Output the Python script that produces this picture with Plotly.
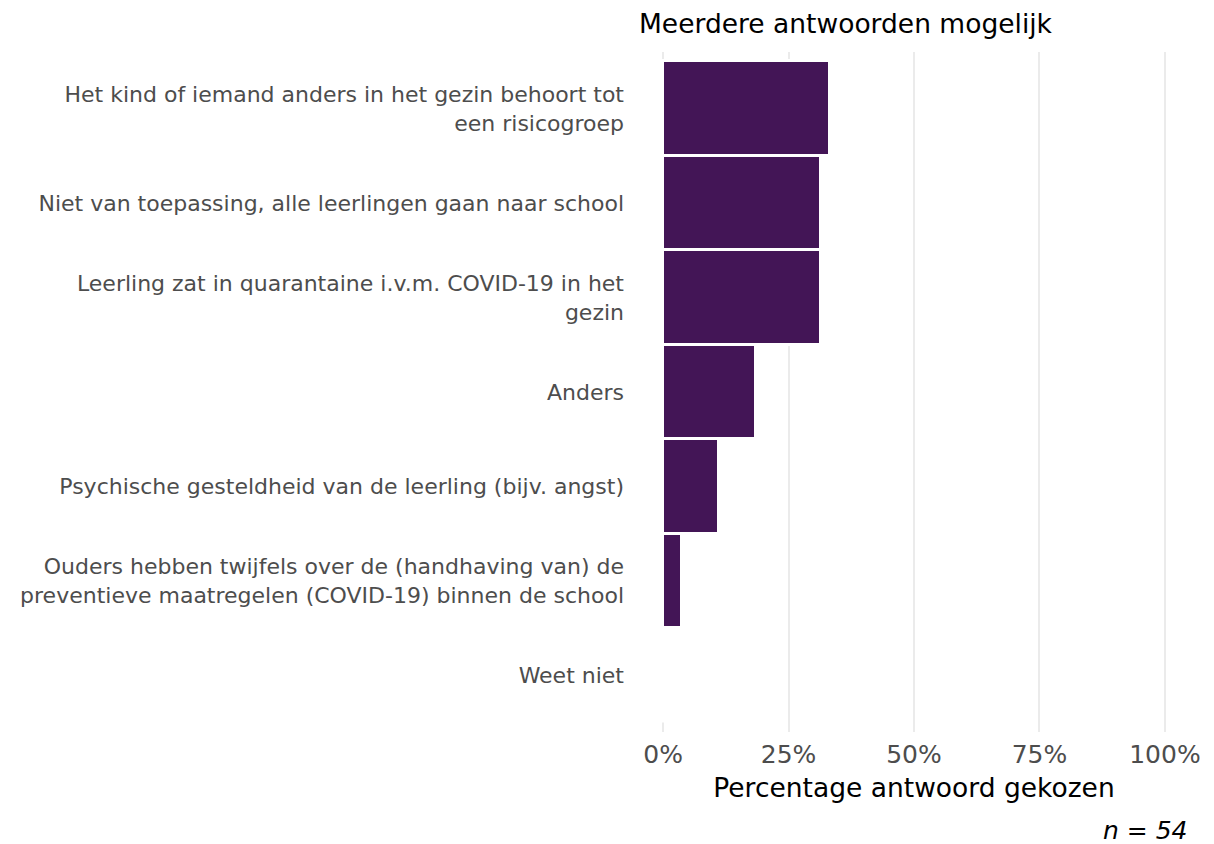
import plotly.graph_objects as go

categories = [
    "Het kind of iemand anders in het gezin behoort tot<br>een risicogroep",
    "Niet van toepassing, alle leerlingen gaan naar school",
    "Leerling zat in quarantaine i.v.m. COVID-19 in het<br>gezin",
    "Anders",
    "Psychische gesteldheid van de leerling (bijv. angst)",
    "Ouders hebben twijfels over de (handhaving van) de<br>preventieve maatregelen (COVID-19) binnen de school",
    "Weet niet",
]
percentages = [33.3, 31.5, 31.5, 18.5, 11.1, 3.7, 0.0]
tick_values = [0, 25, 50, 75, 100]
tick_labels = ["0%", "25%", "50%", "75%", "100%"]

FONT = "Verdana, DejaVu Sans, sans-serif"

fig = go.Figure(
    go.Bar(
        x=percentages,
        y=categories,
        orientation="h",
        width=1,
        marker=dict(color="#431556", line=dict(color="white", width=3)),
    )
)

fig.update_layout(
    width=1214,
    height=844,
    margin=dict(l=630, r=32, t=44, b=120, autoexpand=False),
    plot_bgcolor="white",
    paper_bgcolor="white",
    showlegend=False,
    font=dict(family=FONT),
    title=dict(
        text="Meerdere antwoorden mogelijk",
        x=631 / 1214,
        xanchor="left",
        y=1 - 16 / 844,
        yanchor="middle",
        font=dict(size=26.5, color="black", family=FONT),
    ),
    bargap=0,
)

fig.update_xaxes(
    range=[-5, 105],
    tickvals=tick_values,
    ticktext=tick_labels,
    showgrid=True,
    gridcolor="#EBEBEB",
    gridwidth=2,
    zeroline=False,
    showline=False,
    ticks="",
    automargin=False,
    ticklabelstandoff=5,
    tickfont=dict(size=25, color="#4D4D4D", family=FONT),
    title=dict(text="Percentage antwoord gekozen", font=dict(size=26.5, color="black", family=FONT), standoff=10),
)

fig.update_yaxes(
    range=[6.6, -0.6],
    showgrid=False,
    zeroline=False,
    showline=False,
    ticks="",
    automargin=False,
    ticklabelstandoff=13,
    tickfont=dict(size=22, color="#4D4D4D", family=FONT),
)

fig.add_annotation(
    text="<i>n = 54</i>",
    xref="paper",
    yref="paper",
    x=1,
    y=-98 / 680,
    xanchor="right",
    yanchor="middle",
    showarrow=False,
    font=dict(size=25, color="black", family=FONT),
)

fig.write_html("out.html")
